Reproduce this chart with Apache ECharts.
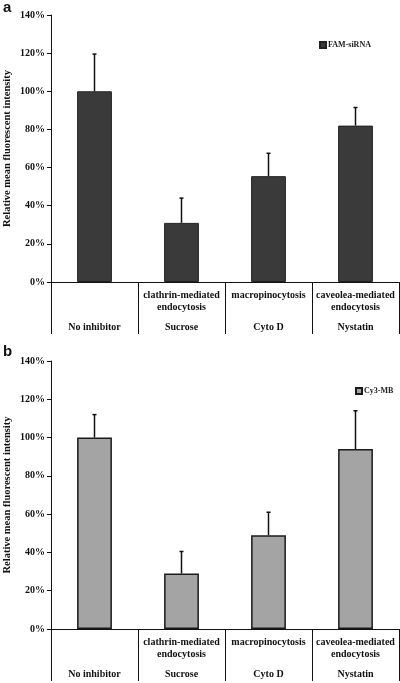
<!DOCTYPE html>
<html><head><meta charset="utf-8">
<script src="https://cdn.jsdelivr.net/npm/echarts@6/dist/echarts.min.js"></script>
<style>html,body{margin:0;padding:0;background:#fff}#c{width:400px;height:683px}</style>
</head><body><div id="c"></div>
<script>
const categories = ['No inhibitor', 'Sucrose', 'Cyto D', 'Nystatin'];
const mechLine1 = ['', 'clathrin-mediated', 'macropinocytosis', 'caveolea-mediated'];
const mechLine2 = ['', 'endocytosis', '', 'endocytosis'];
const yTicks = [0, 20, 40, 60, 80, 100, 120, 140];
const famValues = [100, 31, 55.5, 82];
const famErrTop = [119.5, 44, 67.5, 91.5];
const cy3Values = [100, 29, 49, 94];
const cy3ErrTop = [112, 40.5, 61, 114];

const serif = '"Liberation Serif", "DejaVu Serif", serif';
const chart = echarts.init(document.getElementById('c'));

function xAxisCfg(gi) {
  return {
    type: 'category', gridIndex: gi, data: categories,
    axisLine: { lineStyle: { color: '#111', width: 1 } },
    axisTick: { show: true, length: 52, lineStyle: { color: '#111', width: 1 } },
    axisLabel: {
      margin: 7, interval: 0,
      formatter: function (v, i) {
        const l1 = mechLine1[i] || '\u00a0';
        const l2 = mechLine2[i] || '\u00a0';
        return '{m|' + l1 + '}\n{m|' + l2 + '}\n{n|' + v + '}';
      },
      rich: {
        m: { fontFamily: serif, fontWeight: 'bold', fontSize: 10, lineHeight: 12.5, color: '#111' },
        n: { fontFamily: serif, fontWeight: 'bold', fontSize: 10, lineHeight: 26, color: '#111' }
      }
    }
  };
}
function yAxisCfg(gi) {
  return {
    type: 'value', gridIndex: gi, min: yTicks[0], max: yTicks[yTicks.length - 1], interval: 20,
    name: 'Relative mean fluorescent intensity', nameLocation: 'middle', nameGap: 38, nameMoveOverlap: false,
    nameTextStyle: { fontFamily: serif, fontWeight: 'bold', fontSize: 10.5, color: '#111' },
    axisLine: { show: true, lineStyle: { color: '#111', width: 1 } },
    axisTick: { show: true, length: 4, lineStyle: { color: '#111' } },
    splitLine: { show: false },
    axisLabel: { formatter: '{value}%', fontFamily: serif, fontWeight: 'bold', fontSize: 10, color: '#111', margin: 6 }
  };
}
function errSeries(name, gi, vals, tops) {
  return {
    type: 'custom', name: name + '_err', xAxisIndex: gi, yAxisIndex: gi, z: 1,
    data: vals.map((v, i) => [i, v, tops[i]]),
    renderItem: function (params, api) {
      const base = api.coord([api.value(0), api.value(1)]);
      const top = api.coord([api.value(0), api.value(2)]);
      return {
        type: 'group', children: [
          { type: 'line', shape: { x1: base[0], y1: base[1], x2: top[0], y2: top[1] }, style: { stroke: '#111', lineWidth: 1.5 } },
          { type: 'line', shape: { x1: top[0] - 2, y1: top[1], x2: top[0] + 2, y2: top[1] }, style: { stroke: '#111', lineWidth: 1.5 } }
        ]
      };
    }
  };
}

chart.setOption({
  animation: false,
  backgroundColor: '#fff',
  grid: [
    { left: 51, right: 1, top: 15, height: 267, containLabel: false, outerBoundsMode: 'none' },
    { left: 51, right: 1, top: 361, height: 268, containLabel: false, outerBoundsMode: 'none' }
  ],
  xAxis: [xAxisCfg(0), xAxisCfg(1)],
  yAxis: [yAxisCfg(0), yAxisCfg(1)],
  legend: [
    { data: [{ name: 'FAM-siRNA', icon: 'rect' }], left: 314, top: 36, itemWidth: 6, itemHeight: 6, itemGap: 2,
      textStyle: { fontFamily: serif, fontWeight: 'bold', fontSize: 8, color: '#222', padding: [0, 0, 0, -3] } },
    { data: [{ name: 'Cy3-MB', icon: 'rect' }], left: 350, top: 382, itemWidth: 6, itemHeight: 6,
      textStyle: { fontFamily: serif, fontWeight: 'bold', fontSize: 8, color: '#222', padding: [0, 0, 0, -3] } }
  ],
  graphic: [
    { type: 'text', left: 3, top: 0, style: { text: 'a', font: 'bold 15px "Liberation Sans", Arial, sans-serif', fill: '#111' } },
    { type: 'text', left: 3, top: 344, style: { text: 'b', font: 'bold 15px "Liberation Sans", Arial, sans-serif', fill: '#111' } }
  ],
  series: [
    { type: 'bar', name: 'FAM-siRNA', xAxisIndex: 0, yAxisIndex: 0, data: famValues, barWidth: '40%', z: 2,
      itemStyle: { color: '#3a3a3a', borderColor: '#222', borderWidth: 1 } },
    errSeries('FAM-siRNA', 0, famValues, famErrTop),
    { type: 'bar', name: 'Cy3-MB', xAxisIndex: 1, yAxisIndex: 1, data: cy3Values, barWidth: '40%', z: 2,
      itemStyle: { color: '#a4a4a4', borderColor: '#1a1a1a', borderWidth: 1.5 } },
    errSeries('Cy3-MB', 1, cy3Values, cy3ErrTop)
  ]
});
</script></body></html>
